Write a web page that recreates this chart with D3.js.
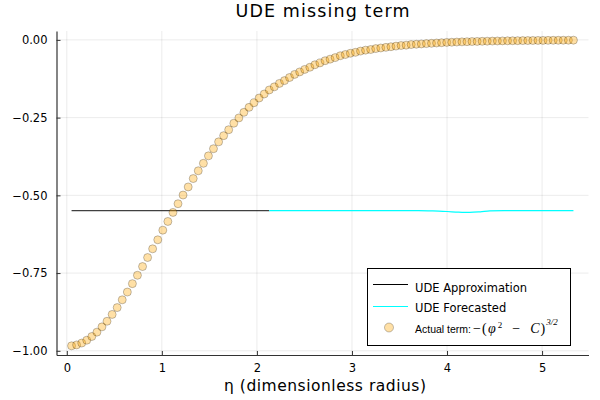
<!DOCTYPE html>
<html>
<head>
<meta charset="utf-8">
<script src="https://cdn.jsdelivr.net/npm/d3@7"></script>
<style>
  body { margin: 0; background: #fff; }
  text { font-family: "DejaVu Sans", sans-serif; }
</style>
</head>
<body>
<div id="chart"></div>
<script>
// UDE missing term chart

// Data
var eta = [0.050, 0.103, 0.157, 0.210, 0.263, 0.317, 0.370, 0.423, 0.477, 0.530,
  0.583, 0.637, 0.690, 0.743, 0.797, 0.850, 0.903, 0.957, 1.010, 1.063,
  1.117, 1.170, 1.223, 1.277, 1.330, 1.383, 1.437, 1.490, 1.543, 1.597,
  1.650, 1.703, 1.757, 1.810, 1.863, 1.917, 1.970, 2.023, 2.077, 2.130,
  2.183, 2.237, 2.290, 2.343, 2.397, 2.450, 2.503, 2.557, 2.610, 2.663,
  2.717, 2.770, 2.823, 2.877, 2.930, 2.983, 3.037, 3.090, 3.143, 3.197,
  3.250, 3.303, 3.357, 3.410, 3.463, 3.517, 3.570, 3.623, 3.677, 3.730,
  3.783, 3.837, 3.890, 3.943, 3.997, 4.050, 4.103, 4.157, 4.210, 4.263,
  4.317, 4.370, 4.423, 4.477, 4.530, 4.583, 4.637, 4.690, 4.743, 4.797,
  4.850, 4.903, 4.957, 5.010, 5.063, 5.117, 5.170, 5.223, 5.277, 5.330];

var actualTerm = [-0.984, -0.981, -0.975, -0.966, -0.954, -0.940, -0.923, -0.905, -0.883, -0.861,
  -0.836, -0.811, -0.784, -0.757, -0.729, -0.700, -0.672, -0.643, -0.612, -0.584,
  -0.555, -0.527, -0.499, -0.473, -0.446, -0.421, -0.397, -0.373, -0.350, -0.328,
  -0.308, -0.289, -0.268, -0.251, -0.233, -0.217, -0.202, -0.187, -0.174, -0.161,
  -0.151, -0.140, -0.131, -0.121, -0.111, -0.103, -0.095, -0.088, -0.080, -0.074,
  -0.067, -0.062, -0.057, -0.051, -0.047, -0.043, -0.040, -0.036, -0.033, -0.031,
  -0.028, -0.026, -0.024, -0.022, -0.020, -0.018, -0.017, -0.015, -0.014, -0.013,
  -0.012, -0.011, -0.010, -0.009, -0.008, -0.0075, -0.0069, -0.0063, -0.0058, -0.0053,
  -0.0049, -0.0045, -0.0041, -0.0038, -0.0035, -0.0032, -0.0029, -0.0027, -0.0025, -0.0023,
  -0.0021, -0.0019, -0.0017, -0.0016, -0.0015, -0.0013, -0.0012, -0.0011, -0.0010, -0.0009];

// UDE approximation (training part) and forecast
var approxEta = [0.050, 0.583, 1.117, 1.650, 2.130];
var approxVal = [-0.549, -0.549, -0.549, -0.549, -0.549];

var forecastEta = [2.130, 2.700, 3.300, 3.700, 3.850, 4.000, 4.120, 4.240, 4.350, 4.450, 4.600, 5.000, 5.330];
var forecastVal = [-0.549, -0.549, -0.549, -0.549, -0.550, -0.552, -0.554, -0.555, -0.553, -0.550, -0.549, -0.549, -0.549];

var xTicks = [0, 1, 2, 3, 4, 5];
var yTicks = [0, -0.25, -0.5, -0.75, -1];

var width = 600;
var height = 400;

// plot area
var margin = {
  top: 31,
  left: 56.5,
  right: 11.5,
  bottom: 45
};

var svg = d3.select("#chart")
  .append("svg")
  .attr("width", width)
  .attr("height", height);

// x scale with 3% padding like Plots.jl
var xExt = d3.extent(eta);
var xPad = (xExt[1] - xExt[0]) * 0.03;
var x_scale = d3.scaleLinear()
  .domain([xExt[0] - xPad, xExt[1] + xPad])
  .range([margin.left, width - margin.right]);

var yExt = d3.extent(actualTerm);
var yPad = (yExt[1] - yExt[0]) * 0.03;
var y_scale = d3.scaleLinear()
  .domain([yExt[0] - yPad, yExt[1] + yPad])
  .range([height - margin.bottom, margin.top]);

// gridlines
svg.append("g")
  .attr("class", "grid")
  .selectAll("line.gx")
  .data(xTicks)
  .enter()
  .append("line")
  .attr("x1", function(d) { return x_scale(d); })
  .attr("x2", function(d) { return x_scale(d); })
  .attr("y1", margin.top)
  .attr("y2", height - margin.bottom)
  .attr("stroke", "#000")
  .attr("stroke-opacity", 0.08);

svg.append("g")
  .attr("class", "grid")
  .selectAll("line.gy")
  .data(yTicks)
  .enter()
  .append("line")
  .attr("x1", margin.left)
  .attr("x2", width - margin.right)
  .attr("y1", function(d) { return y_scale(d); })
  .attr("y2", function(d) { return y_scale(d); })
  .attr("stroke", "#000")
  .attr("stroke-opacity", 0.08);

// x axis (ticks inside)
var xaxis = d3.axisBottom(x_scale)
  .tickValues(xTicks)
  .tickSizeInner(-4)
  .tickSizeOuter(0)
  .tickPadding(9)
  .tickFormat(d3.format("d"));

var gx = svg.append("g")
  .attr("class", "x axis")
  .attr("transform", "translate(0," + (height - margin.bottom) + ")")
  .call(xaxis);

// y axis
var yaxis = d3.axisLeft(y_scale)
  .tickValues(yTicks)
  .tickSizeInner(-4)
  .tickSizeOuter(0)
  .tickPadding(9)
  .tickFormat(d3.format(".2f"));

var gy = svg.append("g")
  .attr("class", "y axis")
  .attr("transform", "translate(" + margin.left + ",0)")
  .call(yaxis);

svg.selectAll(".axis .domain")
  .attr("stroke", "#333")
  .attr("stroke-width", 1.2);
svg.selectAll(".axis .tick line")
  .attr("stroke", "#333");
svg.selectAll(".axis text")
  .attr("fill", "#000")
  .style("font-family", "DejaVu Sans")
  .style("font-size", "11.5px");

// lines
var line = d3.line()
  .x(function(d) { return x_scale(d[0]); })
  .y(function(d) { return y_scale(d[1]); });

svg.append("path")
  .datum(d3.zip(approxEta, approxVal))
  .attr("d", line)
  .attr("fill", "none")
  .attr("stroke", "#000")
  .attr("stroke-opacity", 0.75)
  .attr("stroke-width", 1.2);

svg.append("path")
  .datum(d3.zip(forecastEta, forecastVal))
  .attr("d", d3.line().curve(d3.curveMonotoneX)
    .x(function(d) { return x_scale(d[0]); })
    .y(function(d) { return y_scale(d[1]); }))
  .attr("fill", "none")
  .attr("stroke", "#00ffff")
  .attr("stroke-width", 1.2);

// scatter of actual term
svg.append("g")
  .selectAll("circle")
  .data(d3.zip(eta, actualTerm))
  .enter()
  .append("circle")
  .attr("cx", function(d) { return x_scale(d[0]); })
  .attr("cy", function(d) { return y_scale(d[1]); })
  .attr("r", 4)
  .attr("fill", "#ffa500")
  .attr("fill-opacity", 0.35)
  .attr("stroke", "#000")
  .attr("stroke-opacity", 0.3)
  .attr("stroke-width", 0.8);

// title
svg.append("text")
  .attr("x", 322.5)
  .attr("y", 17)
  .attr("text-anchor", "middle")
  .attr("textLength", 174)
  .attr("lengthAdjust", "spacing")
  .style("font-size", "17.5px")
  .text("UDE missing term");

// x axis label
svg.append("text")
  .attr("x", 325)
  .attr("y", 391)
  .attr("text-anchor", "middle")
  .attr("textLength", 202)
  .attr("lengthAdjust", "spacing")
  .style("font-size", "15.5px")
  .text("η (dimensionless radius)");

// legend
var legend = svg.append("g")
  .attr("class", "legend");

legend.append("rect")
  .attr("x", 367.5)
  .attr("y", 268.5)
  .attr("width", 203)
  .attr("height", 77)
  .attr("fill", "#fff")
  .attr("stroke", "#000")
  .attr("stroke-width", 1);

legend.append("line")
  .attr("x1", 373).attr("x2", 408)
  .attr("y1", 284.5).attr("y2", 284.5)
  .attr("stroke", "#000")
  .attr("stroke-width", 1.2);
legend.append("text")
  .attr("x", 415).attr("y", 292)
  .style("font-size", "11.5px")
  .text("UDE Approximation");

legend.append("line")
  .attr("x1", 373).attr("x2", 408)
  .attr("y1", 306.5).attr("y2", 306.5)
  .attr("stroke", "#00ffff")
  .attr("stroke-width", 1.2);
legend.append("text")
  .attr("x", 415).attr("y", 311.5)
  .style("font-size", "11.5px")
  .text("UDE Forecasted");

legend.append("circle")
  .attr("cx", 389).attr("cy", 327.5)
  .attr("r", 4.5)
  .attr("fill", "#ffa500")
  .attr("fill-opacity", 0.35)
  .attr("stroke", "#000")
  .attr("stroke-opacity", 0.3)
  .attr("stroke-width", 0.8);

// label: plain text part, then math -(phi^2 - C)^(3/2) as flowing tspans
var mathParts = [
  { t: "−", dx: 2, dy: 0, s: 14, it: false },
  { t: "(", dx: 1, dy: 0, s: 14, it: false },
  { t: "φ", dx: 1.5, dy: 0, s: 14, it: true },
  { t: "2", dx: 2, dy: -5.5, s: 9, it: false },
  { t: "−", dx: 10, dy: 5.5, s: 14, it: false },
  { t: "C", dx: 10, dy: 0, s: 14, it: true },
  { t: ")", dx: 1, dy: 0, s: 14, it: false },
  { t: "3/2", dx: 1, dy: -8, s: 9, it: true }
];

var label = legend.append("text")
  .attr("x", 415).attr("y", 333)
  .style("font-family", "Liberation Sans")
  .style("font-size", "10.5px");

label.append("tspan")
  .text("Actual term:");

label.selectAll("tspan.math")
  .data(mathParts)
  .enter()
  .append("tspan")
  .attr("class", "math")
  .attr("dx", function(d) { return d.dx; })
  .attr("dy", function(d) { return d.dy; })
  .style("font-family", "Liberation Serif")
  .style("font-size", function(d) { return d.s + "px"; })
  .style("font-style", function(d) { return d.it ? "italic" : "normal"; })
  .text(function(d) { return d.t; });
</script>
</body>
</html>
